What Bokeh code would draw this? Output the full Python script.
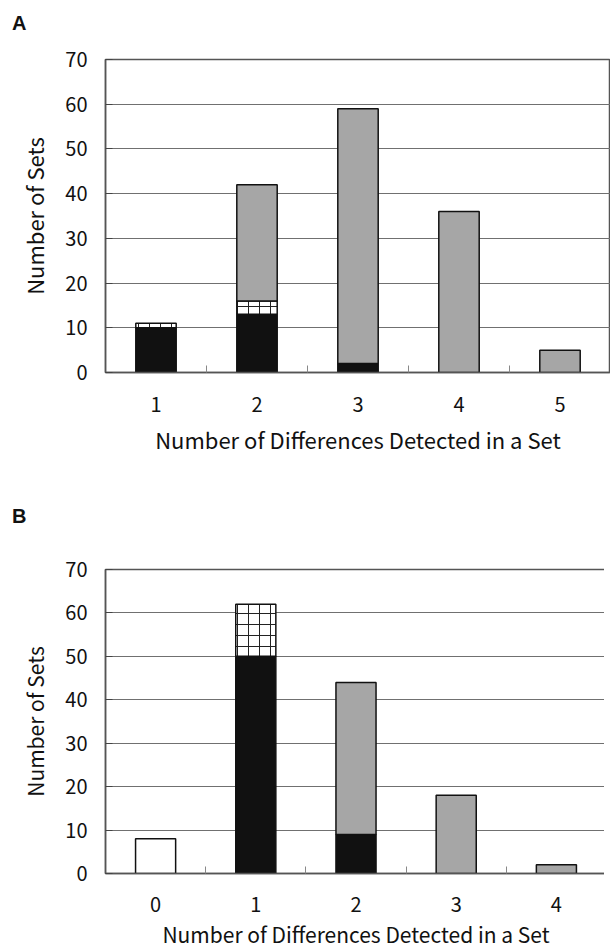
import numpy as np
from bokeh.plotting import figure
from bokeh.layouts import column
from bokeh.models import ColumnDataSource, FixedTicker, Range1d, Div
from bokeh.embed import file_html
from bokeh.resources import INLINE

# ---- data ----
a_categories = [1, 2, 3, 4, 5]
a_black = [10, 13, 2, 0, 0]
a_checked = [1, 3, 0, 0, 0]
a_grey = [0, 26, 57, 36, 5]

b_categories = [0, 1, 2, 3, 4]
b_white = [8, 0, 0, 0, 0]
b_black = [0, 50, 9, 0, 0]
b_checked = [0, 12, 0, 0, 0]
b_grey = [0, 0, 35, 18, 2]

y_ticks = [0, 10, 20, 30, 40, 50, 60, 70]
x_title = "Number of Differences Detected in a Set"
y_title = "Number of Sets"

FONT = "Noto Sans CJK JP"
BLACK = "#111111"
GREY = "#a6a6a6"

STYLES = {
    "white": dict(fill_color="white"),
    "black": dict(fill_color=BLACK),
    "checked": dict(fill_color="white", hatch_pattern="cross", hatch_scale=11,
                    hatch_weight=1, hatch_color="#222222"),
    "grey": dict(fill_color=GREY),
}


def make_panel(cats, layers, frame_w, frame_h, left, top, bottom,
               tick_standoff, label_standoff, label_size):
    p = figure(frame_width=frame_w, frame_height=frame_h,
               x_range=Range1d(cats[0] - 0.5, cats[-1] + 0.5),
               y_range=Range1d(0, 70),
               output_backend="svg", toolbar_location=None,
               min_border_left=left, min_border_right=0,
               min_border_top=top, min_border_bottom=bottom)
    base = np.zeros(len(cats))
    cats_arr = np.array(cats)
    for vals, kind in layers:
        vals = np.array(vals, dtype=float)
        m = vals > 0
        src = ColumnDataSource(dict(x=cats_arr[m], bottom=base[m], top=(base + vals)[m]))
        p.vbar(x="x", bottom="bottom", top="top", width=0.4, source=src,
               line_color=BLACK, line_width=1.5, **STYLES[kind])
        base = base + vals

    p.xgrid.visible = False
    p.ygrid.ticker = FixedTicker(ticks=y_ticks)
    p.ygrid.grid_line_color = "#707070"
    p.ygrid.grid_line_width = 1
    p.outline_line_color = "#555555"
    p.outline_line_width = 1.5
    p.background_fill_color = "white"
    p.border_fill_color = "white"

    p.yaxis.ticker = FixedTicker(ticks=y_ticks)
    p.yaxis.major_tick_in = 7
    p.yaxis.major_tick_out = 0
    p.yaxis.major_tick_line_color = "#444444"
    p.yaxis.minor_tick_line_color = None
    p.yaxis.axis_line_color = "#555555"
    p.yaxis.axis_line_width = 1.5
    p.yaxis.major_label_standoff = 18
    p.yaxis.axis_label = y_title
    p.yaxis.axis_label_standoff = 12

    p.xaxis.ticker = FixedTicker(ticks=cats, minor_ticks=[c + 0.5 for c in cats[:-1]])
    p.xaxis.major_tick_line_color = None
    p.xaxis.minor_tick_in = 7
    p.xaxis.minor_tick_out = 0
    p.xaxis.minor_tick_line_color = "#888888"
    p.xaxis.axis_line_color = "#555555"
    p.xaxis.axis_line_width = 1.5
    p.xaxis.major_label_standoff = tick_standoff
    p.xaxis.axis_label = x_title
    p.xaxis.axis_label_standoff = label_standoff

    for ax in (p.xaxis, p.yaxis):
        ax.major_label_text_font = FONT
        ax.major_label_text_font_size = "20px"
        ax.major_label_text_color = "#111111"
        ax.axis_label_text_font = FONT
        ax.axis_label_text_font_size = label_size
        ax.axis_label_text_font_style = "normal"
        ax.axis_label_text_color = "#111111"
    return p


def letter_div(letter, height, pad_top):
    html = ('<div style="padding:%dpx 0 0 12px; margin:0; font-family:\'Liberation Sans\', Arial, sans-serif; '
            'font-size:20px; font-weight:bold; line-height:23px; color:#111111;">%s</div>') % (pad_top, letter)
    return Div(text=html, width=595, height=height, margin=0)


div_a = letter_div("A", 36, 12)
pa = make_panel(a_categories,
                [(a_black, "black"), (a_checked, "checked"), (a_grey, "grey")],
                frame_w=505, frame_h=313, left=105, top=23, bottom=98,
                tick_standoff=18, label_standoff=8, label_size="22px")
div_b = letter_div("B", 60, 35)
pb = make_panel(b_categories,
                [(b_white, "white"), (b_black, "black"), (b_checked, "checked"), (b_grey, "grey")],
                frame_w=501, frame_h=304, left=103, top=39, bottom=74,
                tick_standoff=17, label_standoff=4, label_size="21px")

layout = column(div_a, pa, div_b, pb, spacing=0)
open("out.html", "w").write(file_html(layout, INLINE))
